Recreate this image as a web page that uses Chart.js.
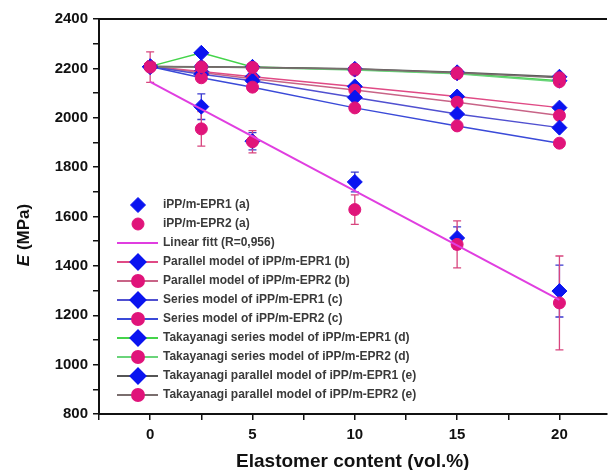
<!DOCTYPE html>
<html lang="en">
<head>
<meta charset="UTF-8">
<title>Young's modulus vs elastomer content</title>
<script src="https://cdn.jsdelivr.net/npm/chart.js"></script>
<style>
  body { margin: 0; background: #fff; overflow: hidden; }
  #wrap { width: 615px; height: 470px; position: relative; }
</style>
</head>
<body>
<div id="wrap"><canvas id="grafico"></canvas></div>
<script>
// elastomer content (vol.%)
const contents = [0, 2.5, 5, 10, 15, 20];

// measured modulus (MPa) and error bars
const epr1 = [2205, 2045, 1905, 1740, 1513, 1298];
const epr1Err = [12, 52, 35, 40, 45, 105];
const epr2 = [2205, 1955, 1903, 1628, 1487, 1250];
const epr2Err = [62, 70, 45, 60, 95, 190];

// linear fit end points
const fitX = [0, 20];
const fitY = [2145, 1262];

// model predictions
const parallel1 = [2208, 2187, 2166, 2127, 2086, 2041];
const parallel2 = [2208, 2183, 2158, 2112, 2063, 2009];
const series1 = [2208, 2176, 2150, 2082, 2015, 1960];
const series2 = [2208, 2162, 2124, 2040, 1967, 1897];
const takSeries1 = [2208, 2263, 2206, 2195, 2180, 2150];
const takSeries2 = [2208, 2206, 2204, 2193, 2178, 2146];
const takParallel1 = [2208, 2207, 2205, 2198, 2184, 2166];
const takParallel2 = [2208, 2206, 2204, 2197, 2182, 2162];

const labels = [
  'iPP/m-EPR1 (a)',
  'iPP/m-EPR2 (a)',
  'Linear fitt (R=0,956)',
  'Parallel model of iPP/m-EPR1 (b)',
  'Parallel model of iPP/m-EPR2 (b)',
  'Series model of iPP/m-EPR1 (c)',
  'Series model of iPP/m-EPR2 (c)',
  'Takayanagi series model of iPP/m-EPR1 (d)',
  'Takayanagi series model of iPP/m-EPR2 (d)',
  'Takayanagi parallel model of iPP/m-EPR1 (e)',
  'Takayanagi parallel model of iPP/m-EPR2 (e)'
];

const xTicks = [-2.5, 0, 2.5, 5, 7.5, 10, 12.5, 15, 17.5, 20];
const xTitle = 'Elastomer content (vol.%)';
const yTitleParts = ['E', ' (MPa)'];

const FONT = 'Arial, "Liberation Sans", sans-serif';
const BLUE = '#0a14f0';
const PINK = '#e0147a';

function pts(xs, ys) {
  return xs.map((x, i) => ({ x: x, y: ys[i] }));
}

function diamonds(label, values, color, order) {
  return {
    label, data: pts(contents, values), order,
    borderColor: color, borderWidth: 1.5, legendLine: true,
    pointStyle: 'rectRot', pointRadius: 7.5,
    pointBackgroundColor: BLUE, pointBorderColor: BLUE, pointBorderWidth: 1
  };
}

function circles(label, values, color, order) {
  return {
    label, data: pts(contents, values), order,
    borderColor: color, borderWidth: 1.5, legendLine: true,
    pointStyle: 'circle', pointRadius: 6,
    pointBackgroundColor: PINK, pointBorderColor: PINK, pointBorderWidth: 1
  };
}

const datasets = [
  {
    label: labels[0], data: pts(contents, epr1), order: 2, showLine: false,
    errors: epr1Err, errorColor: '#3a3ad0',
    pointStyle: 'rectRot', pointRadius: 7.5,
    pointBackgroundColor: BLUE, pointBorderColor: BLUE, borderColor: BLUE
  },
  {
    label: labels[1], data: pts(contents, epr2), order: 1, showLine: false,
    errors: epr2Err, errorColor: '#d8457e',
    pointStyle: 'circle', pointRadius: 6,
    pointBackgroundColor: PINK, pointBorderColor: PINK, borderColor: PINK
  },
  {
    label: labels[2], data: pts(fitX, fitY), order: 0, legendLine: true,
    borderColor: '#e03ee0', borderWidth: 2, pointRadius: 0
  },
  diamonds(labels[3], parallel1, '#e04a85', 10),
  circles(labels[4], parallel2, '#c86487', 9),
  diamonds(labels[5], series1, '#5050d0', 8),
  circles(labels[6], series2, '#3a4ad8', 7),
  diamonds(labels[7], takSeries1, '#44d44a', 6),
  circles(labels[8], takSeries2, '#6ad47a', 5),
  diamonds(labels[9], takParallel1, '#555555', 4),
  circles(labels[10], takParallel2, '#7a6e6e', 3)
];

const errorBars = {
  id: 'errorBars',
  beforeDatasetsDraw(chart) {
    const { ctx, scales: { x, y } } = chart;
    chart.data.datasets.forEach(ds => {
      if (!ds.errors) return;
      ctx.save();
      ctx.strokeStyle = ds.errorColor;
      ctx.lineWidth = 1.3;
      ds.data.forEach((p, i) => {
        const px = x.getPixelForValue(p.x);
        const top = y.getPixelForValue(p.y + ds.errors[i]);
        const bot = y.getPixelForValue(p.y - ds.errors[i]);
        ctx.beginPath();
        ctx.moveTo(px, top); ctx.lineTo(px, bot);
        ctx.moveTo(px - 4, top); ctx.lineTo(px + 4, top);
        ctx.moveTo(px - 4, bot); ctx.lineTo(px + 4, bot);
        ctx.stroke();
      });
      ctx.restore();
    });
  }
};

// legend drawn inside the plot, bottom left
const insideLegend = {
  id: 'insideLegend',
  afterDraw(chart) {
    const ctx = chart.ctx;
    ctx.save();
    chart.data.datasets.forEach((ds, i) => {
      const y = 205 + i * 19;
      if (ds.legendLine) {
        ctx.strokeStyle = ds.borderColor;
        ctx.lineWidth = 2;
        ctx.beginPath();
        ctx.moveTo(117, y); ctx.lineTo(158, y);
        ctx.stroke();
      }
      if (ds.pointRadius > 0) {
        ctx.fillStyle = ds.pointBackgroundColor;
        ctx.strokeStyle = ds.pointBorderColor;
        Chart.helpers.drawPoint(ctx, { pointStyle: ds.pointStyle, radius: ds.pointRadius, borderWidth: 1, rotation: 0 }, 138, y);
      }
      ctx.fillStyle = '#3a3a3a';
      ctx.font = 'bold 12px ' + FONT;
      ctx.textBaseline = 'middle';
      ctx.textAlign = 'left';
      ctx.fillText(ds.label, 163, y);
    });
    ctx.restore();
  }
};

const yTitle = {
  id: 'yTitle',
  afterDraw(chart) {
    const ctx = chart.ctx;
    ctx.save();
    ctx.translate(24, 235);
    ctx.rotate(-Math.PI / 2);
    ctx.fillStyle = '#111';
    ctx.textBaseline = 'middle';
    ctx.textAlign = 'left';
    ctx.font = 'italic bold 17px ' + FONT;
    const w1 = ctx.measureText(yTitleParts[0]).width;
    ctx.font = 'bold 17px ' + FONT;
    const w2 = ctx.measureText(yTitleParts[1]).width;
    const x0 = -(w1 + w2) / 2;
    ctx.font = 'italic bold 17px ' + FONT;
    ctx.fillText(yTitleParts[0], x0, 0);
    ctx.font = 'bold 17px ' + FONT;
    ctx.fillText(yTitleParts[1], x0 + w1, 0);
    ctx.restore();
  }
};

Chart.defaults.font.family = FONT;
Chart.defaults.color = '#111';

new Chart(document.getElementById('grafico'), {
  type: 'line',
  data: { datasets },
  options: {
    responsive: true,
    maintainAspectRatio: false,
    animation: false,
    layout: { padding: { left: 55, top: 19, right: 0, bottom: 0 } },
    plugins: { legend: { display: false }, tooltip: { enabled: false } },
    elements: { line: { tension: 0 } },
    scales: {
      x: {
        type: 'linear', position: 'bottom', min: -2.5, max: 22.3,
        afterBuildTicks: s => { s.ticks = xTicks.map(v => ({ value: v })); },
        afterFit: s => { s.height = 56; },
        grid: { drawOnChartArea: false, drawTicks: true, tickLength: 6, color: '#111', lineWidth: 1.5 },
        border: { color: '#111', width: 2 },
        ticks: {
          padding: 6, autoSkip: false, maxRotation: 0,
          font: { size: 15, weight: 'bold' }, color: '#111',
          callback: v => (v % 5 === 0 ? v : '')
        },
        title: {
          display: true, text: xTitle, color: '#111',
          font: { size: 19, weight: 'bold', lineHeight: 0.9 },
          padding: { top: 0, bottom: 0 }
        }
      },
      xTop: {
        type: 'linear', position: 'top', min: -2.5, max: 22.3,
        afterFit: s => { s.height = 0; },
        grid: { display: false, drawTicks: false },
        ticks: { display: false },
        border: { color: '#111', width: 2 }
      },
      y: {
        type: 'linear', min: 800, max: 2400,
        afterFit: s => { s.width = 44; },
        grid: { drawOnChartArea: false, drawTicks: true, tickLength: 6, color: '#111', lineWidth: 1.5 },
        border: { color: '#111', width: 2 },
        ticks: {
          stepSize: 100, padding: 5, autoSkip: false,
          font: { size: 15, weight: 'bold' }, color: '#111',
          callback: v => (v % 200 === 0 ? v : '')
        }
      }
    }
  },
  plugins: [errorBars, insideLegend, yTitle]
});
</script>
</body>
</html>
